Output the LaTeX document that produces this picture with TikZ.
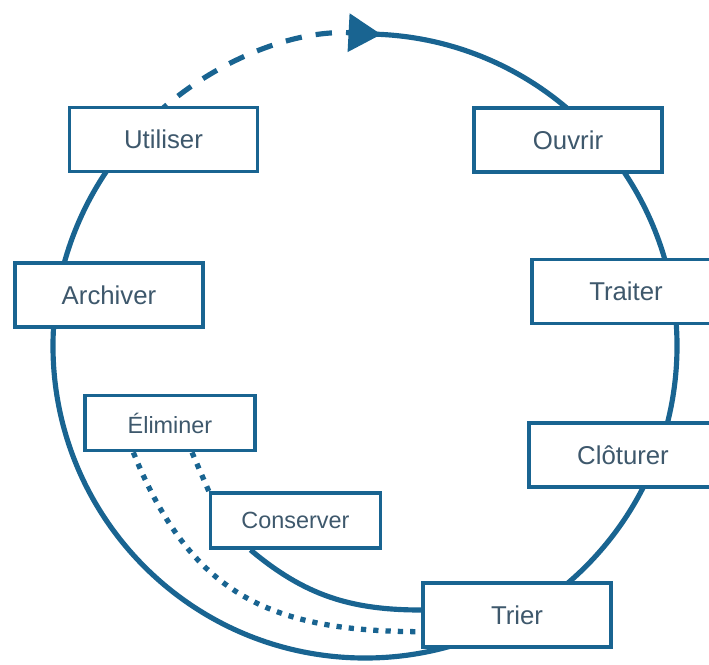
\documentclass[tikz,border=0pt]{standalone}
\usepackage{fontspec}
\setmainfont{Liberation Sans}
\usetikzlibrary{arrows.meta,backgrounds}
\definecolor{cyclecol}{RGB}{25,100,145}
\definecolor{labelcol}{RGB}{62,88,108}
\tikzset{
  phase/.style={draw=cyclecol, line width=3pt, fill=white, text=labelcol,
    minimum width=56.4mm, minimum height=19.2mm, font=\fontsize{22}{26}\selectfont},
  subphase/.style={phase, minimum width=51mm, minimum height=16.6mm,
    font=\fontsize{20}{24}\selectfont},
  ringline/.style={draw=cyclecol, line width=4.4pt},
  dotline/.style={draw=cyclecol, line width=4.5pt, dash pattern=on 4.5pt off 6pt},
}

\begin{document}
\begin{tikzpicture}[x=0.3mm,y=0.3mm]
  \useasboundingbox (0,0) rectangle (709,664);
  \coordinate (centre) at (365,318);
  % phases round the cycle
  \node[phase] (utiliser) at (163.5,524.5) {Utiliser};
  \node[phase] (ouvrir)   at (568,524)     {Ouvrir};
  \node[phase] (archiver) at (109,369)     {Archiver};
  \node[phase] (traiter)  at (626,372.5)   {Traiter};
  \node[phase] (cloturer) at (623,209)     {Clôturer};
  \node[phase] (trier)    at (517,49)      {Trier};
  % outcomes of the sort
  \node[subphase] (eliminer)  at (170,241)     {Éliminer};
  \node[subphase] (conserver) at (295.5,143.5) {Conserver};
  \begin{scope}[on background layer]
    \draw[ringline] (centre) ++(88:312) arc[start angle=88, end angle=-226, radius=93.6mm];
    \draw[ringline, dash pattern=on 14pt off 12pt, -{Triangle[length=28pt,width=32pt]}]
      (centre) ++(138:312) arc[start angle=138, end angle=87, radius=93.6mm];
  \end{scope}
  \draw[ringline] ([xshift=-13.5mm]conserver.south) to[out=-40, in=180] ([yshift=1.5mm]trier.west);
  \draw[dotline] ([xshift=-11mm]eliminer.south) to[out=-68, in=180, looseness=1.15] ([yshift=-5mm]trier.west);
  \draw[dotline] ([xshift=6.6mm]eliminer.south) -- (conserver.north west);
\end{tikzpicture}
\end{document}
